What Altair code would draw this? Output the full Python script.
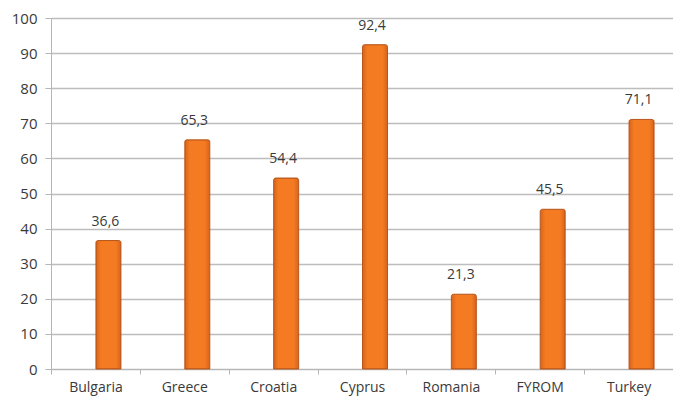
import altair as alt
import pandas as pd

countries = ["Bulgaria", "Greece", "Croatia", "Cyprus", "Romania", "FYROM", "Turkey"]
values = [36.6, 65.3, 54.4, 92.4, 21.3, 45.5, 71.1]

df = pd.DataFrame({"country": countries, "value": values})
df["label"] = [f"{v:.1f}".replace(".", ",") for v in values]

x_enc = alt.X(
    "country:N",
    sort=countries,
    title=None,
    scale=alt.Scale(paddingInner=0, paddingOuter=0),
    axis=alt.Axis(
        labelAngle=0,
        labelFont="Open Sans",
        labelFontSize=14,
        labelColor="#3a3a3a",
        labelPadding=6,
        tickBand="extent",
        tickSize=5,
        tickColor="#b5b5b5",
        domainColor="#b5b5b5",
        grid=False,
    ),
)

y_enc = alt.Y(
    "value:Q",
    title=None,
    scale=alt.Scale(domain=[0, 100]),
    axis=alt.Axis(
        values=list(range(0, 101, 10)),
        labelFont="Open Sans",
        labelFontSize=15,
        labelColor="#3a3a3a",
        labelPadding=8,
        tickSize=6,
        tickColor="#b5b5b5",
        domainColor="#b5b5b5",
        gridColor="#bdbdbd",
        gridWidth=1.3,
    ),
)

bar_fill = alt.Gradient(
    gradient="linear",
    x1=0, x2=1, y1=0, y2=0,
    stops=[
        alt.GradientStop(color="#d8641c", offset=0),
        alt.GradientStop(color="#f47b22", offset=0.2),
        alt.GradientStop(color="#f47b22", offset=0.8),
        alt.GradientStop(color="#d8641c", offset=1),
    ],
)

bars = alt.Chart(df).mark_bar(
    size=25,
    xOffset=13,
    fill=bar_fill,
    stroke="#b9561a",
    strokeWidth=1,
    cornerRadiusTopLeft=2,
    cornerRadiusTopRight=2,
).encode(x=x_enc, y=y_enc)

labels = alt.Chart(df).mark_text(
    font="Open Sans",
    fontSize=14,
    color="#3a3a3a",
    baseline="bottom",
    dy=-12,
    xOffset=10,
).encode(x=x_enc, y=y_enc, text="label:N")

chart = (
    (bars + labels)
    .properties(
        width=622,
        height=351,
        padding={"left": 51, "top": 18, "right": 0, "bottom": 31},
        autosize=alt.AutoSizeParams(type="none"),
        background="white",
    )
    .configure_view(stroke=None)
)

chart.save("out.html", embed_options={"renderer": "svg", "actions": False})
